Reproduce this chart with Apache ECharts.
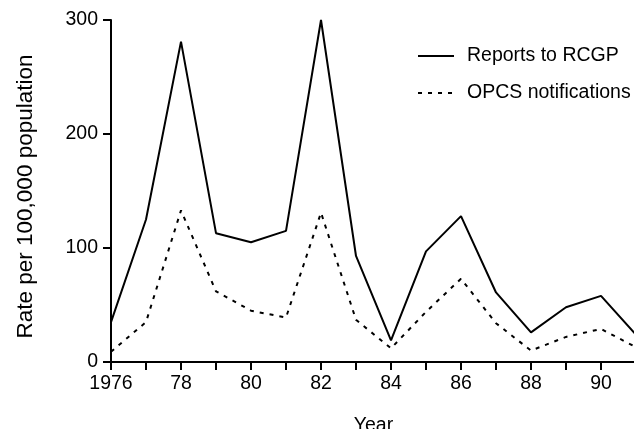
<!DOCTYPE html>
<html>
<head>
<meta charset="utf-8">
<script src="https://cdn.jsdelivr.net/npm/echarts@6/dist/echarts.min.js"></script>
<style>html,body{margin:0;padding:0;background:#fff;}#c{width:634px;height:429px;}</style>
</head>
<body>
<div id="c"></div>
<script>
const years = [1976,1977,1978,1979,1980,1981,1982,1983,1984,1985,1986,1987,1988,1989,1990,1991];
const rcgp = [35,125,281,113,105,115,300,93,19,97,128,61,26,48,58,24];
const opcs = [9,35,133,62,45,39,131,37,12,44,73,34,10,22,29,13];
const seriesNames = ['Reports to RCGP','OPCS notifications'];
const yTicks = [0,100,200,300];

const FONT = 'Liberation Sans, Arial, sans-serif';
const FS = 19.5;
const chart = echarts.init(document.getElementById('c'), null, {renderer:'canvas'});
chart.setOption({
  animation:false,
  backgroundColor:'#fff',
  textStyle:{fontFamily:FONT,color:'#000'},
  grid:{left:111,right:-2,top:20,bottom:67,containLabel:false,outerBoundsMode:'none'},
  legend:{
    orient:'vertical',left:412,top:41,itemWidth:36,itemHeight:14,itemGap:17,
    itemStyle:{opacity:0},
    textStyle:{fontSize:FS,fontFamily:FONT,color:'#000',padding:[0,0,0,8]},
    data:seriesNames
  },
  xAxis:{
    type:'value',min:1976,max:1991,interval:1,
    name:'Year',nameLocation:'middle',nameGap:54,
    nameTextStyle:{fontSize:FS,fontFamily:FONT,color:'#000'},
    axisLine:{show:true,onZero:false,lineStyle:{color:'#000',width:2}},
    axisTick:{show:true,length:8,lineStyle:{color:'#000',width:2}},
    axisLabel:{fontSize:FS,fontFamily:FONT,color:'#000',margin:12,showMaxLabel:false,
      formatter:function(v){ if(v%2!==0) return ''; return v===1976?'1976':String(v).slice(2);} },
    splitLine:{show:false}
  },
  yAxis:{
    type:'value',min:yTicks[0],max:yTicks[yTicks.length-1],interval:100,
    name:'Rate per 100,000 population',nameLocation:'middle',nameGap:74,
    nameTextStyle:{fontSize:22.5,fontFamily:FONT,color:'#000',padding:[0,11,0,0]},
    axisLine:{show:true,lineStyle:{color:'#000',width:2}},
    axisTick:{show:true,length:8,lineStyle:{color:'#000',width:2}},
    axisLabel:{fontSize:FS,fontFamily:FONT,color:'#000',margin:13},
    splitLine:{show:false}
  },
  series:[
    {name:seriesNames[0],type:'line',symbol:'none',data:years.map((y,i)=>[y,rcgp[i]]),
     lineStyle:{color:'#000',width:2},itemStyle:{color:'#000'}},
    {name:seriesNames[1],type:'line',symbol:'none',data:years.map((y,i)=>[y,opcs[i]]),
     lineStyle:{color:'#000',width:2,type:[4,6]},itemStyle:{color:'#000'}}
  ]
});
</script>
</body>
</html>
